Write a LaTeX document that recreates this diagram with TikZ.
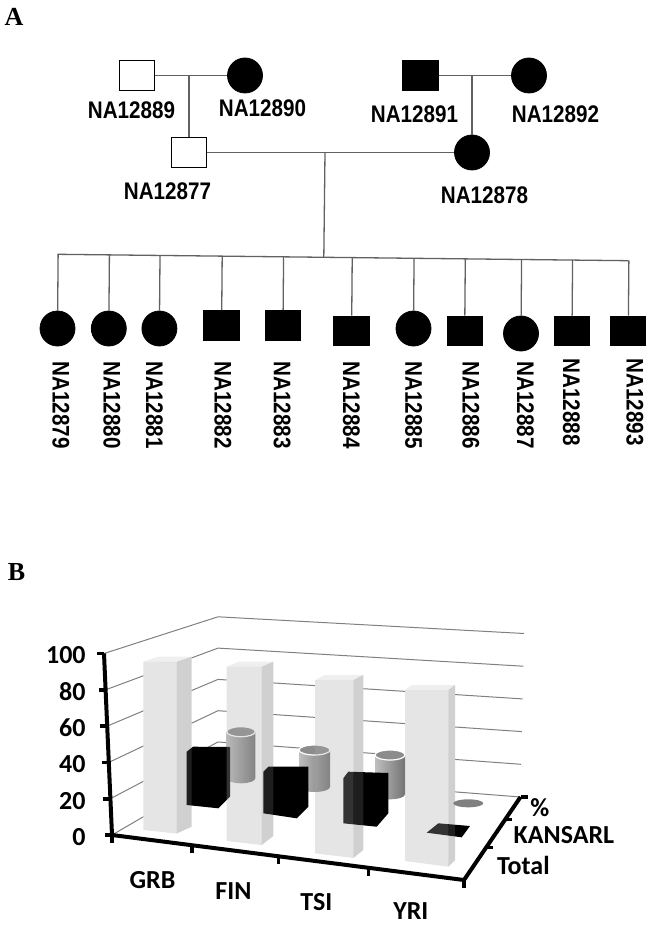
\documentclass[tikz,border=0pt]{standalone}
\usepackage{fontspec}
\usepackage{graphicx}
\setmainfont{Carlito}
\newfontfamily\panelfont{Liberation Serif}
\newfontfamily\idfamily{Liberation Sans}
\usetikzlibrary{calc}
\newcommand{\idfont}{\idfamily\fontsize{12}{14}\selectfont\bfseries}
\newcommand{\naid}[1]{\scalebox{0.86}[1]{NA#1}}
\tikzset{
  kin/.style={draw=black!62,line width=0.65pt},
  sqopen/.style={rectangle,draw=black,fill=white,line width=0.65pt,
    minimum width=17.5pt,minimum height=14.75pt,inner sep=0pt},
  sqfill/.style={sqopen,fill=black},
  circfill/.style={circle,draw=black,fill=black,minimum size=17.5pt,inner sep=0pt},
  idlabel/.style={font=\idfont,inner sep=0pt},
  vlabel/.style={idlabel,rotate=-90,anchor=west},
  panel/.style={font=\panelfont\bfseries\fontsize{13}{15}\selectfont,inner sep=0pt},
  gridline/.style={draw=black!50,line width=0.5pt},
  axisline/.style={line width=2pt,line join=miter},
  tickmark/.style={line width=1.8pt},
  chartlabel/.style={font=\fontsize{13}{15}\selectfont\bfseries,inner sep=0pt},
  barbase/.style={fill=white},
  barfront/.style={fill=black!33,fill opacity=0.3},
  barside/.style={fill=black!60,fill opacity=0.3},
  bartop/.style={fill=black!20,fill opacity=0.3},
  kbox/.style={fill=black},
  cylbody/.style={left color=black!25,right color=black!55},
  cyltop/.style={fill=black!45,draw=white,line width=0.6pt}
}

\begin{document}
\begin{tikzpicture}[x=0.5pt,y=-0.5pt]
  \useasboundingbox (0,0) rectangle (650,925);

  % A: pedigree
  \node[panel] (pA) at (14,17) {A};

  \node[sqopen] (n12889) at (137,75.5) {};
  \node[circfill] (n12890) at (245,75.5) {};
  \node[sqfill] (n12891) at (420.5,75.5) {};
  \node[circfill] (n12892) at (529,75.5) {};
  \node[sqopen] (n12877) at (189,152.5) {};
  \node[circfill] (n12878) at (472,152.5) {};

  \node[idlabel] (l12889) at (131.5,110.5) {\naid{12889}};
  \node[idlabel] (l12890) at (262.5,108) {\naid{12890}};
  \node[idlabel] (l12891) at (414.5,114) {\naid{12891}};
  \node[idlabel] (l12892) at (555.5,114) {\naid{12892}};
  \node[idlabel] (l12877) at (167.5,191) {\naid{12877}};
  \node[idlabel] (l12878) at (484.5,195) {\naid{12878}};

  \coordinate (c1) at (n12877 |- n12889);
  \coordinate (c2) at (n12878 |- n12891);
  \coordinate (c3) at (325,152.5);
  \coordinate (sL) at (57.5,254.3);
  \coordinate (sR) at (628.6,260.7);

  \draw[kin] (n12889) -- (n12890);
  \draw[kin] (n12891) -- (n12892);
  \draw[kin] (c1) -- (n12877);
  \draw[kin] (c2) -- (n12878);
  \draw[kin] (n12877) -- (n12878);
  \draw[kin] (sL) -- (sR);
  \draw[kin] (c3) -- ($(sL)!(c3)!(sR)$);

  % children
  \foreach \id/\sty/\x/\y/\lx/\ly in {
    12879/circfill/57.5/328.5/61/361,
    12880/circfill/108.8/328.5/112/361,
    12881/circfill/159.4/328.5/154.4/361,
    12882/sqfill/221.6/325.5/222.8/361,
    12883/sqfill/283/325.5/282.2/361,
    12884/sqfill/351.6/331/351.5/361,
    12885/circfill/413.5/328.5/413.7/361,
    12886/sqfill/464.7/331/471/361,
    12887/circfill/521/333.5/525.3/361,
    12888/sqfill/572/331/571.4/358.3,
    12893/sqfill/628.3/331/634.9/358.3}
  {
    \node[\sty] (n\id) at (\x,\y) {};
    \coordinate (t\id) at ($(sL)!(n\id.north)!(sR)$);
    \draw[kin] (t\id) -- (n\id);
    \node[vlabel] (l\id) at (\lx,\ly) {\naid{\id}};
  }

  % B: 3-D chart
  \node[panel] (pB) at (16.5,572.5) {B};

  \coordinate (yt) at (104,653.5);
  \coordinate (o) at (112,835);
  \coordinate (xe) at (464,880);
  \coordinate (ze) at (520.5,797);

  % walls and floor
  \foreach \k in {0,...,5}
    \draw[gridline] ({112-1.6*\k},{835-36.3*\k}) -- (218,{773.3-31.3*\k})
      -- ({520.5+0.7*\k},{797-32.7*\k});

  % Total bars hide the wall lines behind them
  \def\totalbars{143.3/176.7/191.7/661.7/656.7/830/833.5/826.7,
    226.7/261.7/273.3/666.7/661.7/841/845/836,
    315/353.3/363.3/680/675/853.3/858/850,
    405/448.3/455/690/685/861/866.7/860}
  \foreach \xa/\xb/\xc/\yt/\ys/\yl/\yr/\yk in \totalbars
    \fill[barbase] (\xa,\yt) -- (\xa+\xc-\xb,\ys) -- (\xc,\ys) -- (\xc,\yk)
      -- (\xb,\yr) -- (\xa,\yl) -- cycle;

  % % series (back row)
  \foreach \cx/\rx/\yt/\yb in {241/14.3/731.7/778.3,314.5/15.5/750/787,390/15/755/794.3}
  {
    \path[cylbody] (\cx-\rx,\yt) -- (\cx-\rx,\yb)
      arc[start angle=180,end angle=0,x radius=\rx,y radius=5] -- (\cx+\rx,\yt) -- cycle;
    \draw[cyltop] (\cx,\yt) ellipse[x radius=\rx,y radius=5];
  }
  \fill[black!50] (468.3,803.3) ellipse[x radius=15,y radius=4];

  % KANSARL (middle row)
  \fill[kbox] (186.7,805) -- (186.7,751.7) -- (193,746.7) -- (230,747) -- (230,796.7) -- (218.3,808.3) -- cycle;
  \fill[kbox] (263.3,813.3) -- (263.3,771.7) -- (268.3,766.7) -- (308.3,766.7) -- (308.3,806.7) -- (296.7,818.3) -- cycle;
  \fill[kbox] (343.3,823.3) -- (343.3,778.3) -- (348.3,771.7) -- (388.3,773) -- (388.3,813.3) -- (376.7,826.7) -- cycle;
  \fill[kbox] (426.7,832.7) -- (438.3,823.3) -- (470,826) -- (461.7,837.3) -- cycle;

  % Total (front row, see-through)
  \foreach \xa/\xb/\xc/\yt/\ys/\yl/\yr/\yk in \totalbars
  {
    \fill[barfront] (\xa,\yt) -- (\xb,\yt) -- (\xb,\yr) -- (\xa,\yl) -- cycle;
    \fill[barside] (\xb,\yt) -- (\xc,\ys) -- (\xc,\yk) -- (\xb,\yr) -- cycle;
    \fill[bartop] (\xa,\yt) -- (\xa+\xc-\xb,\ys) -- (\xc,\ys) -- (\xb,\yt) -- cycle;
  }

  % axes
  \draw[axisline] (yt) -- (o) -- (xe) -- (ze);
  \foreach \k in {0,...,5}
    \draw[tickmark] ({112-1.6*\k},{835-36.3*\k}) -- ++(-7,0);
  \foreach \x in {112,191.7,278.3,368.3,464}
    \draw[tickmark] (\x,{835+0.1278*(\x-112)}) -- ++(0,8);
  \foreach \t in {0.39,0.73,1}
    \draw[tickmark] ($(xe)!\t!(ze)$) -- ++(7,0);

  \foreach \v/\k in {0/0,20/1,40/2,60/3,80/4,100/5}
    \node[chartlabel,anchor=east] (y\v) at (86,{837-36.3*\k}) {\v};

  \node[chartlabel] (cGRB) at (152.5,880) {GRB};
  \node[chartlabel] (cFIN) at (233.4,891) {FIN};
  \node[chartlabel] (cTSI) at (316.4,902) {TSI};
  \node[chartlabel] (cYRI) at (410.8,911) {YRI};

  \node[chartlabel,anchor=west] (sTotal) at (496.7,865) {Total};
  \node[chartlabel,anchor=west] (sKansarl) at (513.3,835.5) {KANSARL};
  \node[chartlabel,anchor=west] (sPct) at (530,808) {\%};
\end{tikzpicture}
\end{document}
